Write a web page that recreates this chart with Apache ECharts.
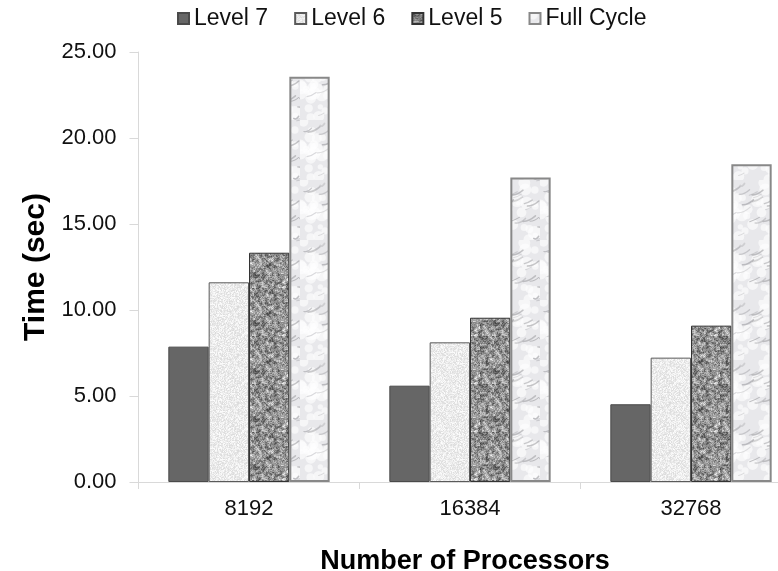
<!DOCTYPE html>
<html>
<head>
<meta charset="utf-8">
<script src="https://cdn.jsdelivr.net/npm/echarts@6/dist/echarts.min.js"></script>
<style>
  html, body { margin: 0; padding: 0; background: #fff; }
  #chart { width: 778px; height: 571px; }
</style>
</head>
<body>
<div id="chart"></div>
<script>
const processors = ['8192', '16384', '32768'];
const level7 = [7.87, 5.60, 4.52];
const level6 = [11.61, 8.12, 7.23];
const level5 = [13.33, 9.55, 9.09];
const fullCycle = [23.56, 17.71, 18.47];
const seriesNames = ['Level 7', 'Level 6', 'Level 5', 'Full Cycle'];

// small seeded generator, only used for the fill textures
function rng(seed) {
    let s = seed;
    return function () {
        s = (s * 1664525 + 1013904223) % 4294967296;
        return s / 4294967296;
    };
}

function noiseCanvas(size, base, spread, seed) {
    const c = document.createElement('canvas');
    c.width = size; c.height = size;
    const ctx = c.getContext('2d');
    const img = ctx.createImageData(size, size);
    const r = rng(seed);
    for (let i = 0; i < size * size; i++) {
        let v = base + (r() - 0.5) * spread;
        v = Math.max(0, Math.min(255, v));
        img.data[i * 4] = v; img.data[i * 4 + 1] = v; img.data[i * 4 + 2] = v; img.data[i * 4 + 3] = 255;
    }
    ctx.putImageData(img, 0, 0);
    return c;
}

// blotchy granite: coarse noise upscaled smoothly, plus fine grain on top
function granite(size, base, spread, seed) {
    const coarse = noiseCanvas(size / 2, base, spread, seed);
    const c = document.createElement('canvas');
    c.width = size; c.height = size;
    const ctx = c.getContext('2d');
    ctx.imageSmoothingEnabled = true;
    ctx.drawImage(coarse, 0, 0, size, size);
    ctx.globalAlpha = 0.35;
    ctx.drawImage(noiseCanvas(size, base, spread, seed + 5), 0, 0);
    return c;
}

function marble(size, seed) {
    const c = document.createElement('canvas');
    c.width = size; c.height = size;
    const ctx = c.getContext('2d');
    ctx.fillStyle = '#e8e8eb';
    ctx.fillRect(0, 0, size, size);
    const r = rng(seed);
    for (let i = 0; i < 40; i++) {
        ctx.fillStyle = 'rgba(255,255,255,0.6)';
        ctx.beginPath();
        ctx.arc(r() * size, r() * size, 2 + r() * 5, 0, Math.PI * 2);
        ctx.fill();
    }
    ctx.lineCap = 'round';
    for (let i = 0; i < 24; i++) {
        const x = r() * size, y = r() * size;
        const l = 4 + r() * 10;
        ctx.strokeStyle = 'rgba(140,140,145,' + (0.25 + r() * 0.3) + ')';
        ctx.lineWidth = 0.7 + r() * 1.1;
        ctx.beginPath();
        ctx.moveTo(x, y);
        ctx.quadraticCurveTo(x + l * 0.5, y - l * 0.2 + r() * 3, x + l, y - l * 0.45);
        ctx.stroke();
    }
    return c;
}

const fills = [
    '#666666',
    { image: noiseCanvas(48, 236, 34, 7), repeat: 'repeat' },
    { image: granite(48, 145, 200, 11), repeat: 'repeat' },
    { image: marble(60, 3), repeat: 'repeat' }
];
const borders = ['#4a4a4a', '#5a5a5a', '#333333', '#888888'];
const borderWidths = [1, 1, 1, 2];
const values = [level7, level6, level5, fullCycle];

const chart = echarts.init(document.getElementById('chart'));
chart.setOption({
    animation: false,
    textStyle: { fontFamily: 'Liberation Sans, Arial, sans-serif' },
    legend: {
        top: 2,
        left: 172,
        itemWidth: 11,
        itemHeight: 11,
        itemGap: 26,
        icon: 'rect',
        textStyle: { fontSize: 23, color: '#111' },
        data: seriesNames
    },
    grid: { left: 138.5, top: 52, width: 663, bottom: 89, outerBoundsMode: 'none', containLabel: false },
    xAxis: {
        type: 'category',
        data: processors,
        name: 'Number of Processors',
        nameLocation: 'middle',
        nameGap: 66,
        nameTextStyle: { fontSize: 27, fontWeight: 'bold', color: '#000', padding: [0, 10, 0, 0] },
        axisLine: { lineStyle: { color: '#d9d9d9', width: 1 } },
        axisTick: { show: true, length: 7, lineStyle: { color: '#d9d9d9' } },
        axisLabel: { fontSize: 22, color: '#111', margin: 16 }
    },
    yAxis: {
        type: 'value',
        min: 0,
        max: 25,
        interval: 5,
        name: 'Time (sec)',
        nameLocation: 'middle',
        nameGap: 88,
        nameTextStyle: { fontSize: 30, fontWeight: 'bold', color: '#000' },
        axisLine: { show: true, lineStyle: { color: '#d9d9d9', width: 1 } },
        axisTick: { show: true, length: 9, lineStyle: { color: '#d9d9d9' } },
        axisLabel: { fontSize: 22, color: '#111', margin: 22, formatter: v => v.toFixed(2) },
        splitLine: { show: false }
    },
    series: seriesNames.map((name, i) => ({
        name: name,
        type: 'bar',
        data: values[i],
        barGap: '0%',
        barCategoryGap: '27%',
        itemStyle: { color: fills[i], borderColor: borders[i], borderWidth: borderWidths[i] }
    }))
});
</script>
</body>
</html>
